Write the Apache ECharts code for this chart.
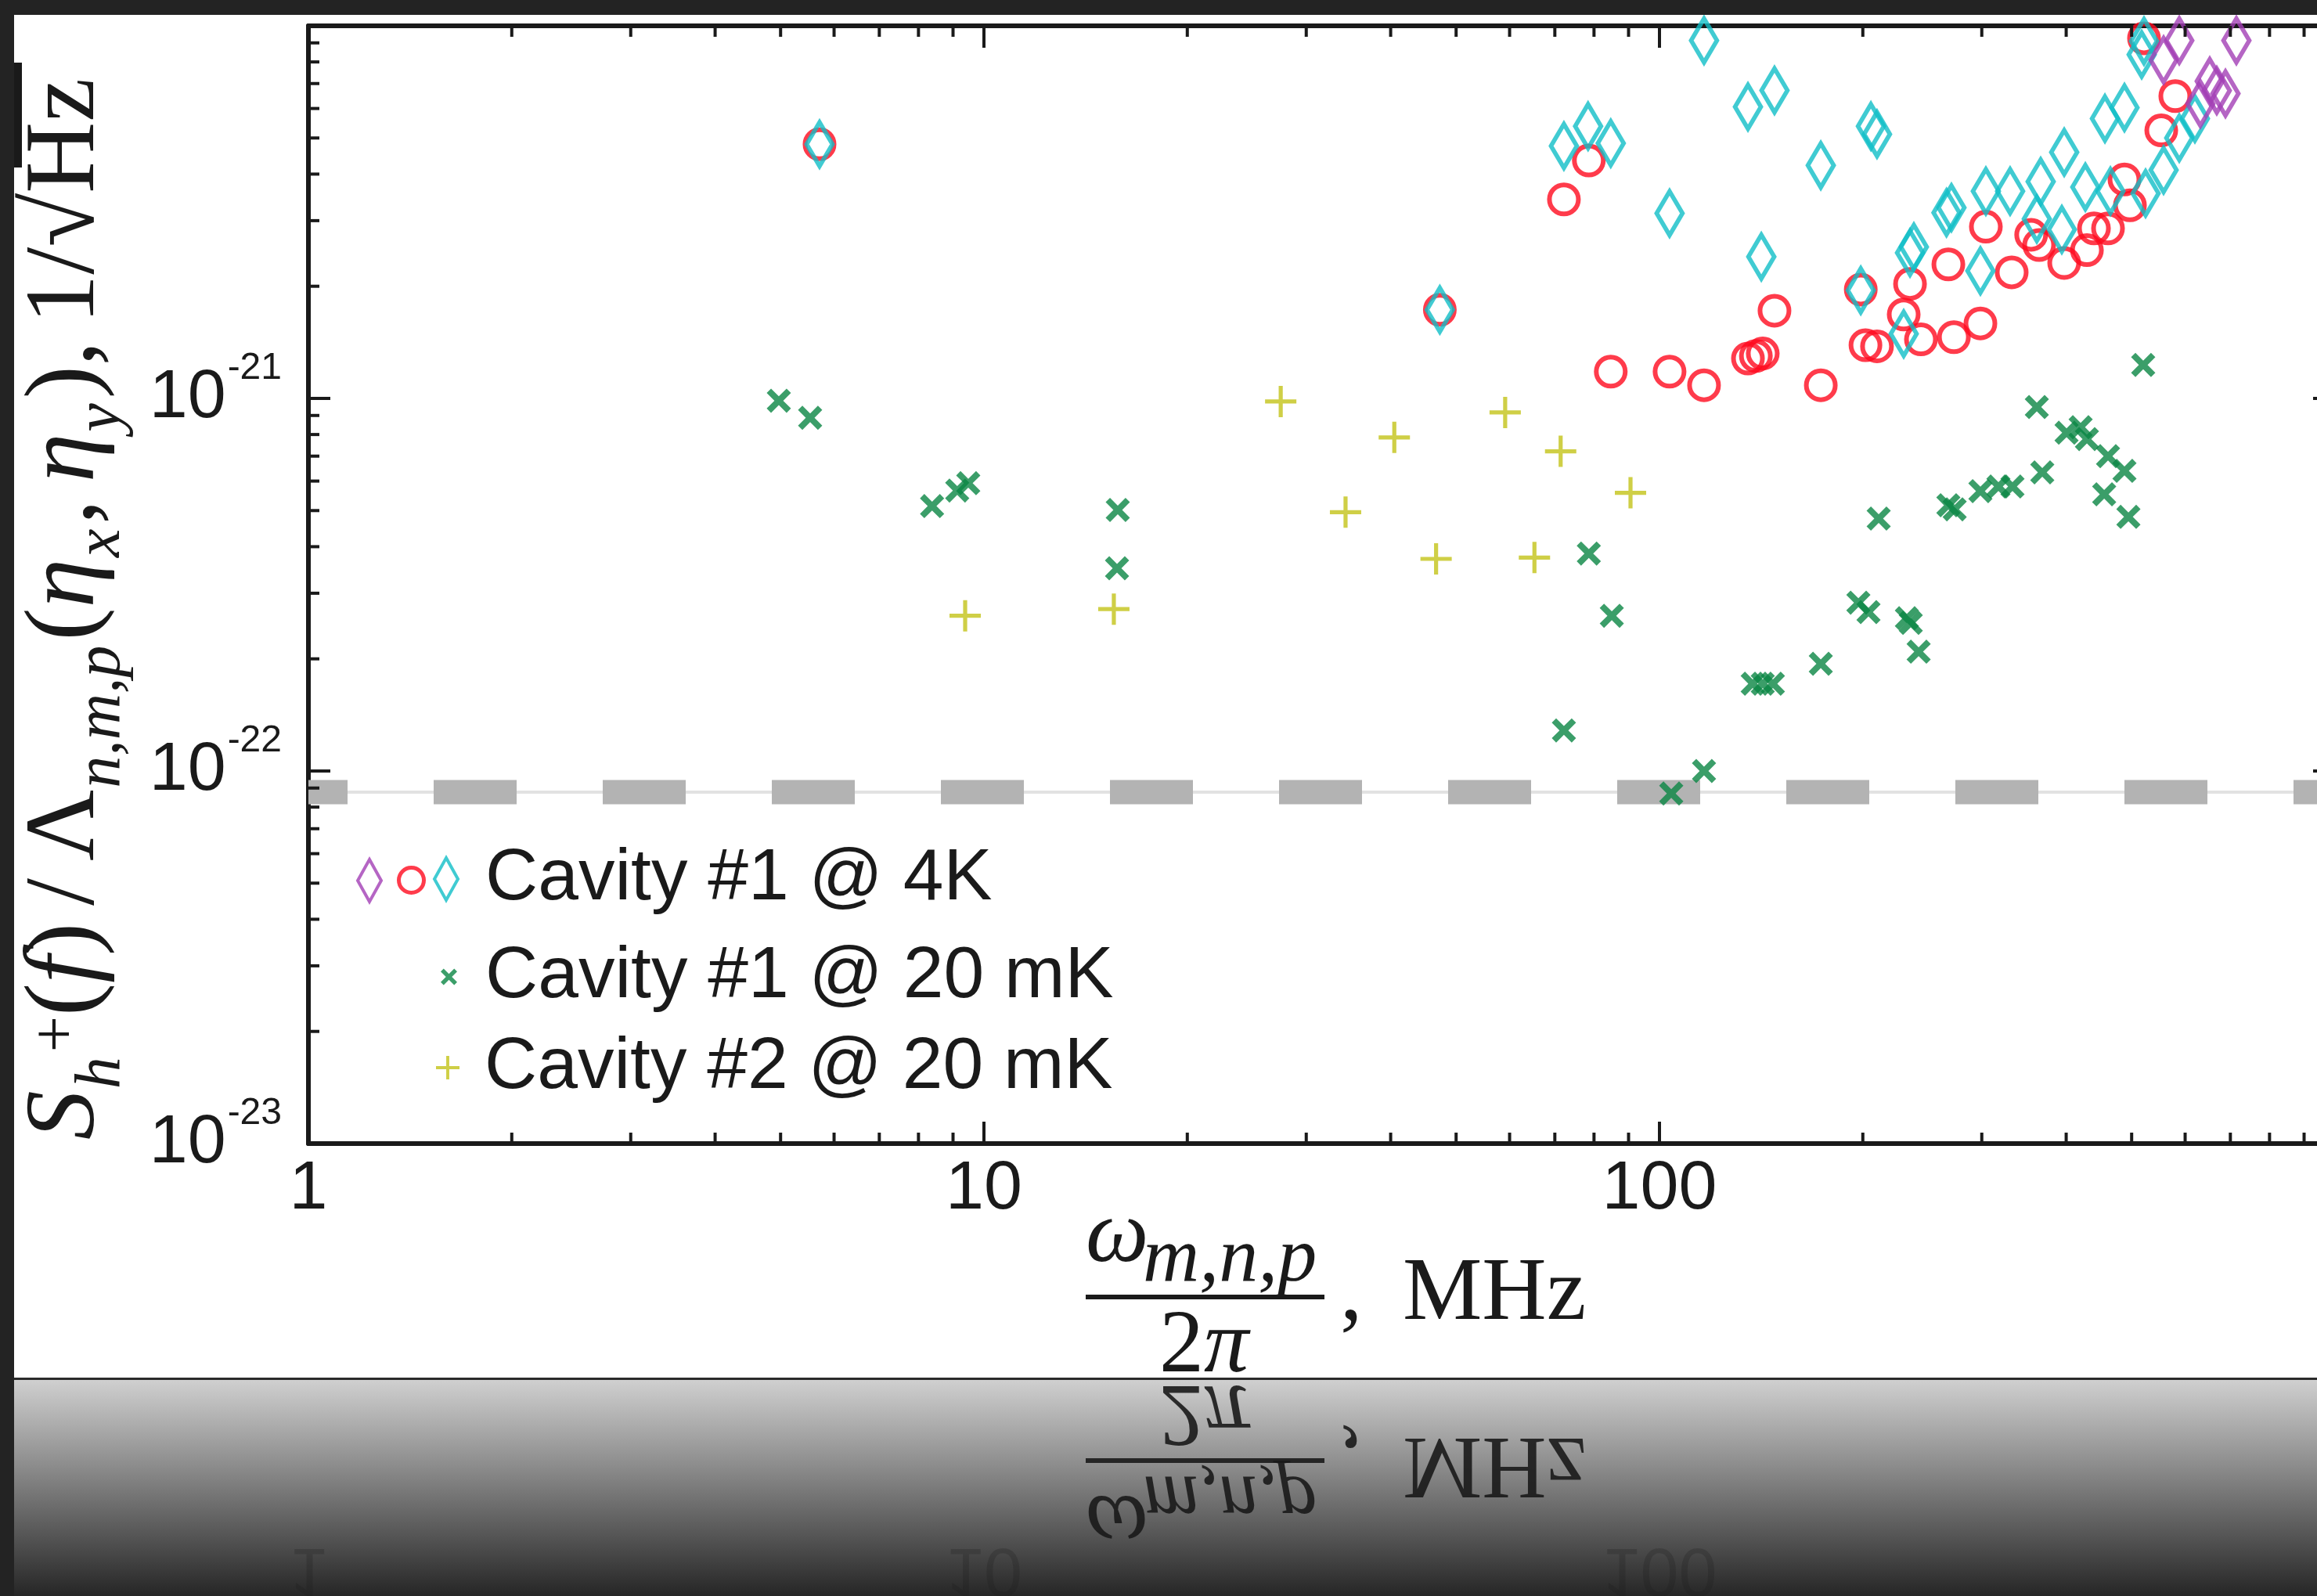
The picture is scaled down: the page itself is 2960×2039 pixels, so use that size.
<!DOCTYPE html>
<html>
<head>
<meta charset="utf-8">
<title>Cavity strain sensitivity</title>
<script src="https://cdn.jsdelivr.net/npm/echarts@6.0.0/dist/echarts.min.js"></script>
<style>
  html, body { margin: 0; padding: 0; background: #fff; }
  #chart { width: 2960px; height: 2039px; }
</style>
</head>
<body>
<div id="chart"></div>
<script>
// [frequency omega/2pi in MHz, S_h / Lambda in 1/sqrt(Hz)]
const cav1At4KPurple = [
  [557.5, 8.09e-21], [588.1, 9.13e-21], [631.9, 6.18e-21], [652.5, 7.10e-21],
  [668.3, 6.70e-21], [688.4, 6.58e-21], [714.5, 9.13e-21]
]
const cav1At4KRed = [
  [5.71, 4.81e-21], [47.3, 1.73e-21], [72.2, 3.42e-21], [78.6, 4.35e-21], [84.7, 1.18e-21],
  [103.5, 1.18e-21], [116.4, 1.085e-21], [135.2, 1.28e-21], [138.9, 1.30e-21], [142.2, 1.32e-21],
  [148.0, 1.72e-21], [173.3, 1.085e-21], [198.6, 1.96e-21], [201.8, 1.39e-21], [209.9, 1.38e-21],
  [229.9, 1.68e-21], [234.9, 2.03e-21], [243.8, 1.44e-21], [267.7, 2.29e-21], [272.8, 1.46e-21],
  [298.6, 1.59e-21], [304.2, 2.89e-21], [332.2, 2.18e-21], [355.0, 2.75e-21], [364.8, 2.58e-21],
  [397.3, 2.31e-21], [429.3, 2.50e-21], [439.7, 2.86e-21], [461.3, 2.86e-21], [487.9, 3.87e-21],
  [497.1, 3.30e-21], [521.5, 9.26e-21], [553.1, 5.24e-21], [580.2, 6.48e-21]
]
const cav1At4KCyan = [
  [5.71, 4.81e-21], [47.3, 1.73e-21], [72.2, 4.76e-21], [78.4, 5.38e-21], [84.7, 4.84e-21],
  [103.5, 3.14e-21], [116.4, 9.13e-21], [135.2, 6.06e-21], [148.0, 6.71e-21], [141.5, 2.40e-21],
  [173.3, 4.22e-21], [198.6, 1.95e-21], [205.6, 5.38e-21], [209.9, 5.12e-21], [229.9, 1.49e-21],
  [234.9, 2.46e-21], [238.0, 2.55e-21], [266.0, 3.15e-21], [270.5, 3.25e-21], [298.6, 2.20e-21],
  [304.2, 3.60e-21], [330.4, 3.60e-21], [361.9, 3.03e-21], [366.7, 3.82e-21], [394.1, 2.84e-21],
  [397.3, 4.58e-21], [427.0, 3.69e-21], [456.5, 5.64e-21], [465.1, 3.60e-21], [487.9, 6.03e-21],
  [517.4, 8.37e-21], [521.5, 9.10e-21], [524.3, 3.55e-21], [557.5, 4.10e-21], [588.1, 5.00e-21],
  [620.3, 5.64e-21]
]
const cav1At20mK = [
  [4.97, 0.986e-21], [5.53, 0.887e-21], [8.38, 0.514e-21], [9.13, 0.566e-21], [9.48, 0.592e-21],
  [15.78, 0.502e-21], [15.74, 0.350e-21], [72.2, 0.1285e-21], [78.6, 0.3835e-21], [85.0, 0.261e-21],
  [104.1, 0.0870e-21], [116.4, 0.100e-21], [137.4, 0.1715e-21], [142.2, 0.1715e-21], [147.2, 0.1715e-21],
  [173.3, 0.194e-21], [197.0, 0.283e-21], [203.9, 0.267e-21], [232.4, 0.257e-21], [235.5, 0.2497e-21],
  [241.9, 0.209e-21], [211.1, 0.476e-21], [267.7, 0.517e-21], [273.5, 0.504e-21], [298.6, 0.564e-21],
  [317.5, 0.580e-21], [333.1, 0.580e-21], [368.7, 0.633e-21], [361.9, 0.948e-21], [400.5, 0.809e-21],
  [420.2, 0.837e-21], [429.3, 0.778e-21], [461.3, 0.700e-21], [487.9, 0.639e-21], [455.3, 0.553e-21],
  [494.5, 0.481e-21], [520.1, 1.23e-21]
]
const cav2At20mK = [
  [9.38, 0.261e-21], [15.57, 0.272e-21], [27.5, 0.981e-21], [34.3, 0.495e-21], [40.5, 0.786e-21],
  [46.7, 0.371e-21], [59.1, 0.917e-21], [65.3, 0.374e-21], [71.4, 0.721e-21], [90.6, 0.558e-21]
]
const thresholdLevel = 8.78e-23
const xRange = [1, 1000]
const yRange = [1e-23, 1e-20]
const legendNames = ['Cavity #1 @ 4K', 'Cavity #1 @ 20 mK', 'Cavity #2 @ 20 mK']

// minor ticks at 2..9 of every decade
const xMinorTicks = []
for (let d = 0; d < 3; d++) for (let k = 2; k <= 9; k++) xMinorTicks.push(k * Math.pow(10, d))
const yMinorTicks = []
for (let d = -23; d < -20; d++) for (let k = 2; k <= 9; k++) yMinorTicks.push(k * Math.pow(10, d))

const PURPLE = '#a23fb5'
const RED = '#ff0a1e'
const CYAN = '#10bec7'
const GREEN = '#0a8643'
const YELLOW = '#c3c318'
const INK = '#1a1a1a'
const SANS = 'Liberation Sans'
const SERIF = 'Liberation Serif'

const DIAMOND = 'path://M15,0L30,27L15,54L0,27Z'
const CROSS = 'path://M0,1.8L1.8,0L5,3.2L8.2,0L10,1.8L6.8,5L10,8.2L8.2,10L5,6.8L1.8,10L0,8.2L3.2,5Z'
const PLUS = 'path://M4.35,0H5.65V4.35H10V5.65H5.65V10H4.35V5.65H0V4.35H4.35Z'

const chart = echarts.init(document.getElementById('chart'))

function minorTicks(dir) {
  return function (params, api) {
    const v = api.value(dir === 'x' ? 0 : 1)
    const st = { stroke: INK, lineWidth: 4 }
    if (dir === 'x') {
      const a = api.coord([v, yRange[0]])
      const b = api.coord([v, yRange[1]])
      return { type: 'group', children: [
        { type: 'line', shape: { x1: a[0], y1: a[1], x2: a[0], y2: a[1] - 14 }, style: st },
        { type: 'line', shape: { x1: b[0], y1: b[1], x2: b[0], y2: b[1] + 14 }, style: st }
      ] }
    }
    const a = api.coord([xRange[0], v])
    const b = api.coord([xRange[1], v])
    return { type: 'group', children: [
      { type: 'line', shape: { x1: a[0], y1: a[1], x2: a[0] + 14, y2: a[1] }, style: st },
      { type: 'line', shape: { x1: b[0], y1: b[1], x2: b[0] - 14, y2: b[1] }, style: st }
    ] }
  }
}

const axisCommon = {
  type: 'log',
  logBase: 10,
  axisLine: { onZero: false, lineStyle: { color: INK, width: 6 } },
  axisTick: { inside: true, length: 28, lineStyle: { color: INK, width: 4 } },
  splitLine: { show: false }
}

// icon sits at the left of its box; text is pushed right with a padded rich token
function iconLegend(name, icon, style, left, top, size, textPad) {
  const hasText = textPad != null
  return {
    data: [{ name: name, icon: icon, itemStyle: style }],
    left: left,
    top: top,
    padding: 0,
    itemWidth: size[0],
    itemHeight: size[1],
    selectedMode: false,
    formatter: hasText ? n => '{t|' + n + '}' : () => '',
    textStyle: hasText
      ? { fontSize: 93, lineHeight: 100, fontFamily: SANS, color: INK,
          rich: { t: { fontSize: 93, lineHeight: 100, fontFamily: SANS, color: INK, padding: [0, 0, 0, textPad] } } }
      : { fontSize: 1 }
  }
}

// power-of-ten tick label pieces
const powRich = {
  b: { fontSize: 88, lineHeight: 124, fontFamily: SANS, color: INK, fill: INK },
  s: { fontSize: 48, lineHeight: 48, fontFamily: SANS, color: INK, fill: INK, verticalAlign: 'top', padding: [0, 0, 0, 2] }
}
const powLabel = e => '{b|10}{s|' + e + '}'

const serifRich = {
  m: { fontFamily: SERIF, fontStyle: 'italic', fontSize: 126, lineHeight: 170, fill: INK },
  r: { fontFamily: SERIF, fontSize: 126, lineHeight: 170, fill: INK },
  sub: { fontFamily: SERIF, fontStyle: 'italic', fontSize: 82, lineHeight: 80, verticalAlign: 'bottom', fill: INK, padding: [0, 6, 0, 2] },
  sup: { fontFamily: SERIF, fontSize: 82, verticalAlign: 'top', fill: INK, padding: [32, 0, 0, 0] },
  sp: { fontFamily: SERIF, fontSize: 126, lineHeight: 170, fill: INK, width: 22 }
}
const yTitle = '{m|S}{sub|h}{sup|+}{r|(}{m|f}{r|)}{sp| }{r|/}{sp| }{r|Λ}{sub|n,m,p}{r|(}{m|η}{sub|x}{r|,}{sp| }{m|η}{sub|y}{r|),}{sp| }{r|1/√Hz}'

// x axis title pieces (fraction omega/2pi, MHz)
const MIRROR_Y = 1761.5
const xTitleTexts = [
  { x: 1387, y: 1581, text: 'ω', font: 'italic 114px "Liberation Serif"' },
  { x: 1460, y: 1610, text: 'm,n,p', font: 'italic 100px "Liberation Serif"' },
  { x: 1481, y: 1722, text: '2', font: '114px "Liberation Serif"' },
  { x: 1538, y: 1722, text: 'π', font: 'italic 114px "Liberation Serif"' },
  { x: 1712, y: 1655, text: ',', font: '114px "Liberation Serif"' },
  { x: 1792, y: 1655, text: 'MHz', font: '114px "Liberation Serif"' }
]

function textEl(p, mirrored, opacity, z) {
  return {
    type: 'text',
    x: p.x,
    y: mirrored ? 2 * MIRROR_Y - p.y : p.y,
    scaleY: mirrored ? -1 : 1,
    z: z,
    silent: true,
    style: {
      text: p.text, font: p.font, fill: INK, opacity: opacity,
      align: p.align || 'left', verticalAlign: 'middle'
    }
  }
}

const option = {
  backgroundColor: '#fff',
  animation: false,
  grid: { left: 394, top: 33, width: 2589, height: 1428, outerBoundsMode: 'none' },
  xAxis: [
    Object.assign({}, axisCommon, {
      min: xRange[0], max: xRange[1], position: 'bottom',
      axisLabel: {
        fontSize: 88, fontFamily: SANS, color: INK, margin: 15, showMinLabel: true,
        formatter: v => (v >= 1000 ? '' : String(Math.round(v)))
      }
    }),
    Object.assign({}, axisCommon, {
      min: xRange[0], max: xRange[1], position: 'top', axisLabel: { show: false }
    })
  ],
  yAxis: [
    Object.assign({}, axisCommon, {
      min: yRange[0], max: yRange[1], position: 'left',
      axisLabel: {
        margin: 34,
        // the bottom label is placed separately below (the axis drops it at the corner)
        formatter: v => {
          const e = Math.round(Math.log10(v))
          return (e === -20 || e === -23) ? '' : powLabel(e)
        },
        rich: powRich
      }
    }),
    Object.assign({}, axisCommon, {
      min: yRange[0], max: yRange[1], position: 'right', axisLabel: { show: false }
    })
  ],
  legend: [
    iconLegend('cav1-4K-purple', DIAMOND, { color: 'transparent', borderColor: PURPLE, borderWidth: 4 }, 455, 1096, [30, 54]),
    iconLegend('cav1-4K-red', 'circle', { color: 'transparent', borderColor: RED, borderWidth: 5 }, 507, 1106, [32, 32]),
    iconLegend(legendNames[0], DIAMOND, { color: 'transparent', borderColor: CYAN, borderWidth: 4 }, 553, 1073, [30, 54], 30),
    iconLegend(legendNames[1], CROSS, { color: GREEN, borderWidth: 0 }, 563, 1198, [21, 21], 31),
    iconLegend(legendNames[2], PLUS, { color: YELLOW, borderWidth: 0 }, 557, 1314, [30, 30], 27)
  ],
  series: [
    {
      type: 'line', silent: true, symbol: 'none', z: 1,
      data: [[xRange[0], thresholdLevel], [xRange[1], thresholdLevel]],
      lineStyle: { color: '#e2e2e2', width: 4 }
    },
    {
      type: 'line', silent: true, symbol: 'none', z: 1,
      data: [[xRange[0], thresholdLevel], [xRange[1], thresholdLevel]],
      lineStyle: { color: '#b3b3b3', width: 31, type: [106, 110], dashOffset: 56, cap: 'butt' }
    },
    {
      type: 'custom', silent: true, clip: false, z: 4,
      data: xMinorTicks.map(v => [v, yRange[0]]),
      renderItem: minorTicks('x')
    },
    {
      type: 'custom', silent: true, clip: false, z: 4,
      data: yMinorTicks.map(v => [xRange[0], v]),
      renderItem: minorTicks('y')
    },
    {
      name: 'cav1-4K-red', type: 'scatter', silent: true, z: 3,
      data: cav1At4KRed, symbol: 'circle', symbolSize: 37,
      itemStyle: { color: 'transparent', borderColor: RED, borderWidth: 6 }
    },
    {
      name: legendNames[0], type: 'scatter', silent: true, z: 3,
      data: cav1At4KCyan, symbol: DIAMOND, symbolSize: [33, 56],
      itemStyle: { color: 'transparent', borderColor: CYAN, borderWidth: 6 }
    },
    {
      name: 'cav1-4K-purple', type: 'scatter', silent: true, z: 3,
      data: cav1At4KPurple, symbol: DIAMOND, symbolSize: [33, 56],
      itemStyle: { color: 'transparent', borderColor: PURPLE, borderWidth: 6 }
    },
    {
      name: legendNames[1], type: 'scatter', silent: true, z: 3,
      data: cav1At20mK, symbol: CROSS, symbolSize: 31,
      itemStyle: { color: GREEN }
    },
    {
      name: legendNames[2], type: 'scatter', silent: true, z: 3,
      data: cav2At20mK, symbol: PLUS, symbolSize: 40,
      itemStyle: { color: YELLOW }
    }
  ]
}
chart.setOption(option)

// titles, slide frame and the mirrored reflection under the figure
const tickLabelEls = [1, 10, 100].map(v => ({
  x: chart.convertToPixel({ xAxisIndex: 0 }, v), y: 1520, text: String(v),
  font: '88px "Liberation Sans"', align: 'center'
}))
const yBottom = chart.convertToPixel({ yAxisIndex: 0 }, yRange[0])
const elements = [
  {
    type: 'text', x: 394 - 34, y: yBottom, z: 50, silent: true,
    style: { text: powLabel(Math.round(Math.log10(yRange[0]))), rich: powRich, align: 'right', verticalAlign: 'middle' }
  },
  {
    type: 'text', x: 86, y: 778, rotation: Math.PI / 2, z: 50, silent: true,
    style: { text: yTitle, rich: serifRich, align: 'center', verticalAlign: 'middle' }
  },
  { type: 'rect', z: 50, silent: true, shape: { x: 18, y: 80, width: 10, height: 134 }, style: { fill: INK } },
  { type: 'rect', z: 50, silent: true, shape: { x: 1387, y: 1654, width: 305, height: 6 }, style: { fill: INK } }
]
xTitleTexts.forEach(p => elements.push(textEl(p, false, 1, 50)))
elements.push(
  {
    type: 'rect', z: 100, silent: true, shape: { x: 0, y: 1762, width: 2960, height: 277 },
    style: { fill: { type: 'linear', x: 0, y: 0, x2: 0, y2: 1,
      colorStops: [{ offset: 0, color: '#d0d0d0' }, { offset: 1, color: '#262626' }] } }
  },
  { type: 'rect', z: 100, silent: true, shape: { x: 0, y: 1760, width: 2960, height: 3 }, style: { fill: '#2a2a2a' } },
  { type: 'rect', z: 101, silent: true, shape: { x: 1387, y: 2 * MIRROR_Y - 1660, width: 305, height: 6 }, style: { fill: INK, opacity: 0.9 } },
  { type: 'rect', z: 110, silent: true, shape: { x: 0, y: 0, width: 2960, height: 19 }, style: { fill: '#232323' } },
  { type: 'rect', z: 110, silent: true, shape: { x: 0, y: 0, width: 18, height: 2039 }, style: { fill: '#232323' } }
)
xTitleTexts.forEach(p => elements.push(textEl(p, true, 0.9, 101)))
tickLabelEls.forEach(p => elements.push(textEl(p, true, 0.25, 101)))

chart.setOption({ graphic: { elements: elements } })
</script>
</body>
</html>
